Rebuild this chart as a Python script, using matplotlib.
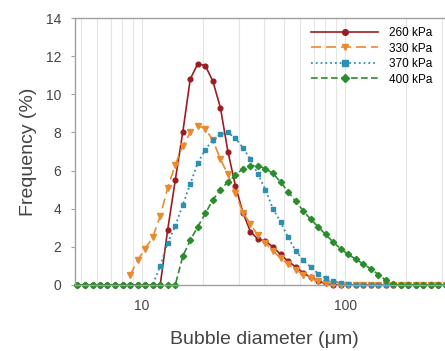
import numpy as np
import matplotlib
matplotlib.use("Agg")
import matplotlib.pyplot as plt

plt.rcParams['font.family'] = ['Liberation Sans', 'DejaVu Sans']

# bubble size classes (um)
diam = [4.81, 5.24, 5.71, 6.21, 6.76, 7.37, 8.02, 8.73, 9.51, 10.36,
        11.29, 12.29, 13.38, 14.58, 15.87, 17.28, 18.82, 20.49, 22.31, 24.32,
        26.48, 28.83, 31.40, 34.18, 37.23, 40.54, 44.14, 48.11, 52.39, 57.05,
        62.12, 67.65, 73.67, 80.22, 87.35, 95.11, 103.7, 112.9, 122.9, 133.8,
        145.8, 158.7, 172.8, 188.2, 204.9, 223.1, 243.0, 264.6, 288.1, 313.8]

nan = np.nan
f260 = [0]*12 + [2.9, 5.5, 8.0, 10.8, 11.6, 11.5, 10.7, 9.3, 7.0, 5.2,
                 3.8, 2.8, 2.4, 2.3, 2.0, 1.6, 1.25, 0.95, 0.65, 0.4,
                 0.2, 0.08, 0.02] + [0]*15
f330 = [nan]*7 + [0.5, 1.3, 1.9, 2.5, 3.6, 5.1, 6.3, 7.3, 8.0, 8.35,
                  8.2, 7.6, 6.6, 5.8, 4.8, 3.8, 3.2, 2.6, 2.2, 1.8,
                  1.4, 1.1, 0.8, 0.55, 0.35, 0.2, 0.1, 0.04] + [0]*15
f370 = [0]*11 + [1.0, 2.2, 3.1, 4.2, 5.3, 6.4, 7.1, 7.6, 7.9, 8.0,
                 7.7, 7.2, 6.6, 5.8, 5.0, 4.0, 3.3, 2.5, 1.8, 1.3,
                 0.95, 0.6, 0.35, 0.2, 0.1, 0.05] + [0]*13
f400 = [0]*14 + [1.5, 2.35, 3.05, 3.75, 4.45, 5.0, 5.4, 5.75, 6.1, 6.25,
                 6.25, 6.1, 5.85, 5.4, 4.9, 4.4, 3.9, 3.45, 3.05, 2.65,
                 2.25, 1.9, 1.6, 1.35, 1.1, 0.85, 0.55, 0.25, 0.05] + [0]*7

labels = ['260 kPa', '330 kPa', '370 kPa', '400 kPa']

fig = plt.figure(figsize=(4.45, 3.51), dpi=100)
ax = fig.add_axes([75/445, 66/351, 378/445, 267/351])

ax.plot(diam, f260, color='#9c1c22', lw=1.2, marker='o', ms=3.4, label=labels[0], clip_on=False)
ax.plot(diam, f330, color='#e88a2e', lw=1.2, ls=(0, (6, 3)), marker='v', ms=3.8,
        label=labels[1], clip_on=False)
ax.plot(diam, f370, color='#2f8fb0', lw=1.3, ls=':', marker='s', ms=3.4, label=labels[2], clip_on=False)
ax.plot(diam, f400, color='#2a8c2a', lw=1.2, ls=(0, (4, 2)), marker='D', ms=3.2,
        label=labels[3], clip_on=False)

ax.set_xscale('log')
ax.set_xlim(4.677, 340)
ax.set_ylim(0, 14)
ax.set_yticks(range(0, 15, 2))
ax.set_xticks([10, 100])
ax.set_xticklabels(['10', '100'])
ax.grid(True, which='both', axis='x', color='#e4e4e4', lw=0.8)
ax.set_axisbelow(True)

for s in ['top', 'left', 'bottom', 'right']:
    ax.spines[s].set_color('#a0a0a0')
    ax.spines[s].set_linewidth(1.0)
ax.tick_params(axis='both', which='both', labelsize=10, colors='#a0a0a0', labelcolor='#444444')
ax.tick_params(axis='x', which='both', length=0, pad=10)
ax.tick_params(axis='y', length=3, pad=7)

ax.set_xlabel('Bubble diameter (\u03bcm)', fontsize=14, color='#444444', labelpad=13)
ax.set_ylabel('Frequency (%)', fontsize=14, color='#444444', labelpad=6)

ax.legend(loc='upper left', bbox_to_anchor=(311/445, 1 - 27/351),
          bbox_transform=fig.transFigure, frameon=False, fontsize=8.5,
          handlelength=5.7, handletextpad=0.9, labelspacing=0.3,
          borderpad=0, borderaxespad=0, markerscale=1.2)

fig.savefig('out.png', dpi=100)
